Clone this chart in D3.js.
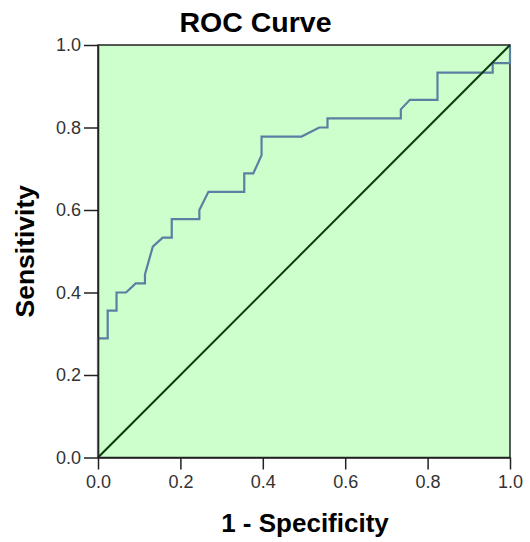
<!DOCTYPE html>
<html><head><meta charset="utf-8">
<script src="https://cdn.jsdelivr.net/npm/d3@7"></script>
<style>body{margin:0;background:#fff;} text{font-family:"Liberation Sans",Arial,sans-serif;}</style>
</head><body>
<svg id="c" width="530" height="542"></svg>
<script>
// 1 - Specificity (x) and Sensitivity (y) of the ROC step curve
const fpr = [0, 0, 0.0235, 0.0235, 0.045, 0.045, 0.068, 0.0915, 0.114, 0.114, 0.133, 0.157, 0.179, 0.179, 0.246, 0.246, 0.268, 0.355, 0.355, 0.377, 0.397, 0.397, 0.494, 0.537, 0.557, 0.557, 0.735, 0.735, 0.757, 0.824, 0.824, 0.958, 0.958, 1, 1];
const tpr = [0, 0.289, 0.289, 0.356, 0.356, 0.400, 0.400, 0.422, 0.422, 0.444, 0.511, 0.533, 0.533, 0.578, 0.578, 0.600, 0.644, 0.644, 0.689, 0.689, 0.733, 0.778, 0.778, 0.800, 0.800, 0.822, 0.822, 0.844, 0.867, 0.867, 0.933, 0.933, 0.956, 0.956, 1];
const refX = [0, 1];
const refY = [0, 1];
const ticks = [0, 0.2, 0.4, 0.6, 0.8, 1.0];

const svg = d3.select("#c");
const L = 98, R = 510, T = 45, B = 457.5;
const x = d3.scaleLinear().domain([0, 1]).range([L, R]);
const y = d3.scaleLinear().domain([0, 1]).range([B, T]);

svg.append("rect").attr("x", L).attr("y", T).attr("width", R - L).attr("height", B - T)
  .attr("fill", "#ccffcc").attr("stroke", "#222").attr("stroke-width", 1.5);

const line = d3.line().x(d => x(d[0])).y(d => y(d[1]));
svg.append("path").datum(fpr.map((v, i) => [v, tpr[i]]))
  .attr("d", line).attr("fill", "none").attr("stroke", "#5b7fa3").attr("stroke-width", 2.2);
svg.append("path").datum(refX.map((v, i) => [v, refY[i]]))
  .attr("d", line).attr("fill", "none").attr("stroke", "#0b3a0b").attr("stroke-width", 2);

const xa = svg.append("g").attr("transform", `translate(0,${B})`)
  .call(d3.axisBottom(x).tickValues(ticks).tickFormat(d3.format(".1f")).tickSize(12).tickPadding(6).tickSizeOuter(0));
const ya = svg.append("g").attr("transform", `translate(${L},0)`)
  .call(d3.axisLeft(y).tickValues(ticks).tickFormat(d3.format(".1f")).tickSize(14).tickPadding(3).tickSizeOuter(0));
[xa, ya].forEach(g => {
  g.select(".domain").attr("stroke", "#222").attr("stroke-width", 1.5);
  g.selectAll(".tick line").attr("stroke", "#222").attr("stroke-width", 1.5);
  g.selectAll(".tick text").attr("fill", "#333").style("font-size", "18px").style("font-family", "'Liberation Sans', Arial, sans-serif");
});

svg.append("text").attr("x", 255.5).attr("y", 32).attr("text-anchor", "middle")
  .style("font-size", "28.5px").style("font-weight", "bold").text("ROC Curve");
svg.append("text").attr("x", 305).attr("y", 532).attr("text-anchor", "middle")
  .style("font-size", "26px").style("font-weight", "bold").text("1 - Specificity");
svg.append("text").attr("transform", `translate(34,${(T + B) / 2}) rotate(-90)`).attr("text-anchor", "middle")
  .style("font-size", "26.5px").style("font-weight", "bold").text("Sensitivity");
</script>
</body></html>
